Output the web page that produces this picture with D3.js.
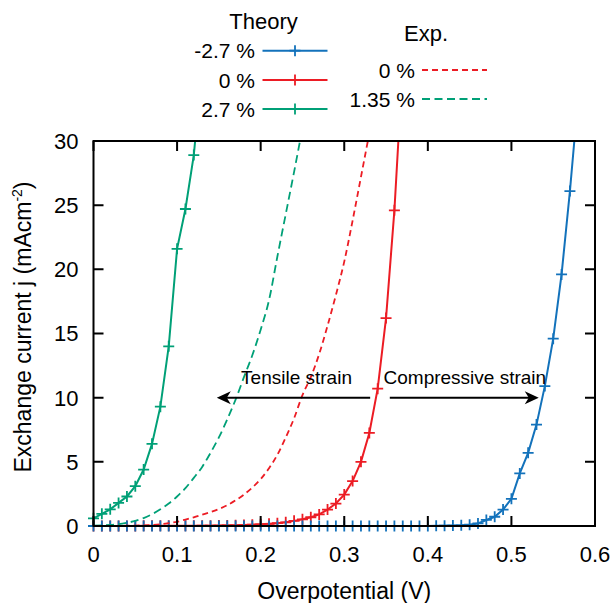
<!DOCTYPE html>
<html><head><meta charset="utf-8">
<script src="https://cdn.jsdelivr.net/npm/d3@7"></script>
<style>
body{margin:0;background:#fff}
svg{display:block}
text{font-family:"Liberation Sans",Arial,Helvetica,sans-serif;fill:#000}
</style>
</head><body>
<svg id="chart" width="614" height="603"></svg>
<script>
// ---------------- data ----------------
const voltage = [0.00,0.01,0.02,0.03,0.04,0.05,0.06,0.07,0.08,0.09,
                 0.10,0.11,0.12,0.13,0.14,0.15,0.16,0.17,0.18,0.19,
                 0.20,0.21,0.22,0.23,0.24,0.25,0.26,0.27,0.28,0.29,
                 0.30,0.31,0.32,0.33,0.34,0.35,0.36,0.37,0.38,0.39,
                 0.40,0.41,0.42,0.43,0.44,0.45,0.46,0.47,0.48,0.49,
                 0.50,0.51,0.52,0.53,0.54,0.55,0.56,0.57,0.58];

// Theory, strain -2.7 %
const theoryMinus27 = [0,0,0,0,0,0,0,0,0,0,
                       0,0,0,0,0,0,0,0,0,0,
                       0,0,0,0,0,0,0,0,0,0,
                       0,0,0,0,0,0,0,0,0,0,
                       0,0.01,0.02,0.03,0.05,0.10,0.20,0.47,0.72,1.28,
                       2.12,4.10,5.70,7.90,10.9,14.6,19.6,26.1,33.5];
// Theory, strain 0 %
const theoryZero = [0,0,0,0,0,0,0.01,0.01,0.01,0.01,
                    0.01,0.01,0.01,0.02,0.02,0.03,0.04,0.05,0.07,0.10,
                    0.13,0.17,0.22,0.29,0.40,0.52,0.68,0.90,1.28,1.75,
                    2.45,3.50,5.00,7.25,10.7,16.2,24.6,36.0];
// Theory, strain 2.7 %
const theoryPlus27 = [0.60,0.95,1.30,1.80,2.30,3.10,4.40,6.40,9.30,14.0,
                      21.6,24.7,28.9,35.8];
// Experiment, strain 0 %
const expZero = [0,0,0,0.01,0.02,0.03,0.05,0.08,0.13,0.22,
                 0.33,0.50,0.68,0.88,1.08,1.32,1.62,2.00,2.45,3.00,
                 3.65,4.50,5.55,6.90,8.40,10.2,11.6,13.4,15.6,18.0,
                 20.6,23.8,27.2,30.6];
// Experiment, strain 1.35 %
const expPlus135 = [0.03,0.05,0.08,0.14,0.25,0.40,0.62,0.92,1.30,1.75,
                    2.30,2.95,3.75,4.60,5.70,6.90,8.30,9.85,11.6,13.3,
                    15.3,17.6,21.0,24.3,27.6,31.0];

const xTicks = [0,0.1,0.2,0.3,0.4,0.5,0.6];
const xTickLabels = ["0","0.1","0.2","0.3","0.4","0.5","0.6"];
const yTicks = [0,5,10,15,20,25,30];
const yTickLabels = ["0","5","10","15","20","25","30"];

const theoryNames = ["-2.7 %","0 %","2.7 %"];
const expNames = ["0 %","1.35 %"];

// ---------------- styling ----------------
const BLUE = "#1372bb", RED = "#ec1c24", GREEN = "#00a077";
const W = 614, H = 603;
const plot = {left:93.5, right:595, top:141, bottom:526};

const svg = d3.select("#chart");
const x = d3.scaleLinear().domain([0,0.6]).range([plot.left, plot.right]);
const y = d3.scaleLinear().domain([0,30]).range([plot.bottom, plot.top]);

const toPts = vals => vals.map((v,i)=>({v:voltage[i], j:v}));

svg.append("defs").append("clipPath").attr("id","clip")
  .append("rect").attr("x",plot.left).attr("y",plot.top)
  .attr("width",plot.right-plot.left).attr("height",plot.bottom-plot.top);

const lineLin = d3.line().x(d=>x(d.v)).y(d=>y(d.j));
const lineSmooth = d3.line().x(d=>x(d.v)).y(d=>y(d.j)).curve(d3.curveMonotoneX);

const gCurves = svg.append("g");

function plus(g, cx, cy, color, s=5.5){
  g.append("path").attr("d",`M${cx-s},${cy}H${cx+s}M${cx},${cy-s}V${cy+s}`)
   .attr("stroke",color).attr("stroke-width",1.8).attr("fill","none");
}

function theory(vals, color){
  const pts = toPts(vals);
  gCurves.append("path").datum(pts).attr("d",lineLin)
    .attr("clip-path","url(#clip)")
    .attr("fill","none").attr("stroke",color).attr("stroke-width",2);
  const g = gCurves.append("g");
  pts.filter(d=>d.j<=30).forEach(d=>plus(g, x(d.v), y(d.j), color));
}
function exper(vals, color, dash){
  const pts = toPts(vals);
  gCurves.append("path").datum(pts).attr("d",lineSmooth)
    .attr("clip-path","url(#clip)")
    .attr("fill","none").attr("stroke",color).attr("stroke-width",1.8)
    .attr("stroke-dasharray",dash);
}

theory(theoryZero, RED);
theory(theoryMinus27, BLUE);
theory(theoryPlus27, GREEN);
exper(expZero, RED, "6,4");
exper(expPlus135, GREEN, "8,4.5");

// ---------------- frame & ticks ----------------
const gAx = svg.append("g");
gAx.append("rect").attr("x",plot.left).attr("y",plot.top)
  .attr("width",plot.right-plot.left).attr("height",plot.bottom-plot.top)
  .attr("fill","none").attr("stroke","#000").attr("stroke-width",2);

const TL = 10;
xTicks.forEach((t,i)=>{
  const px = x(t);
  gAx.append("path").attr("d",`M${px},${plot.bottom}V${plot.bottom-TL}M${px},${plot.top}V${plot.top+TL}`)
    .attr("stroke","#000").attr("stroke-width",2);
  gAx.append("text").attr("x",px).attr("y",plot.bottom+36)
    .attr("text-anchor","middle").attr("font-size",22).text(xTickLabels[i]);
});
yTicks.forEach((t,i)=>{
  const py = y(t);
  gAx.append("path").attr("d",`M${plot.left},${py}H${plot.left+TL}M${plot.right},${py}H${plot.right-TL}`)
    .attr("stroke","#000").attr("stroke-width",2);
  gAx.append("text").attr("x",plot.left-15).attr("y",py).attr("dy","0.36em")
    .attr("text-anchor","end").attr("font-size",22).text(yTickLabels[i]);
});

// axis titles
svg.append("text").attr("x",(plot.left+plot.right)/2).attr("y",599)
  .attr("text-anchor","middle").attr("font-size",23).text("Overpotential (V)");
const yl = svg.append("text").attr("transform","translate(31,327) rotate(-90)")
  .attr("text-anchor","middle").attr("font-size",23);
yl.append("tspan").text("Exchange current j (mAcm");
yl.append("tspan").attr("font-size",14).attr("dy",-9).text("-2");
yl.append("tspan").attr("dy",9).text(")");

// ---------------- annotations ----------------
const notes = {tensile:{x0:0.331,x1:0.1475,j:10, tx:0.1766, tj:11.05},
               compressive:{x0:0.3545,x1:0.5327,j:10, tx:0.347, tj:11.05}};
function arrow(x0,x1,jj){
  const a = x(x0), b = x(x1), yy = y(jj);
  const dir = Math.sign(b-a);
  svg.append("line").attr("x1",a).attr("x2",b-dir*8).attr("y1",yy).attr("y2",yy)
    .attr("stroke","#000").attr("stroke-width",2);
  const L=14, w=6.5, n=10;
  svg.append("path")
    .attr("d",`M${b},${yy}L${b-dir*L},${yy-w}L${b-dir*n},${yy}L${b-dir*L},${yy+w}Z`)
    .attr("fill","#000");
}
arrow(notes.tensile.x0, notes.tensile.x1, notes.tensile.j);
arrow(notes.compressive.x0, notes.compressive.x1, notes.compressive.j);
svg.append("text").attr("x",x(notes.tensile.tx)).attr("y",y(notes.tensile.tj))
  .attr("font-size",19).text("Tensile strain");
svg.append("text").attr("x",x(notes.compressive.tx)).attr("y",y(notes.compressive.tj))
  .attr("font-size",19).text("Compressive strain");

// ---------------- legend ----------------
const lg = svg.append("g");
lg.append("text").attr("x",263.5).attr("y",29).attr("text-anchor","middle")
  .attr("font-size",22).text("Theory");
const tColors = [BLUE, RED, GREEN];
const tRows = [50.7, 80, 109];
theoryNames.forEach((nm,i)=>{
  lg.append("text").attr("x",255).attr("y",tRows[i]).attr("dy","0.36em")
    .attr("text-anchor","end").attr("font-size",21).text(nm);
  lg.append("line").attr("x1",262.5).attr("x2",327.5).attr("y1",tRows[i]).attr("y2",tRows[i])
    .attr("stroke",tColors[i]).attr("stroke-width",2);
  plus(lg, 295, tRows[i], tColors[i]);
});
lg.append("text").attr("x",426).attr("y",41).attr("text-anchor","middle")
  .attr("font-size",22).text("Exp.");
const eColors = [RED, GREEN], eDash = ["6,4","8,4.5"], eRows = [70, 99];
expNames.forEach((nm,i)=>{
  lg.append("text").attr("x",415).attr("y",eRows[i]).attr("dy","0.36em")
    .attr("text-anchor","end").attr("font-size",21).text(nm);
  lg.append("line").attr("x1",422).attr("x2",487).attr("y1",eRows[i]).attr("y2",eRows[i])
    .attr("stroke",eColors[i]).attr("stroke-width",1.8).attr("stroke-dasharray",eDash[i]);
});
</script>
</body></html>
